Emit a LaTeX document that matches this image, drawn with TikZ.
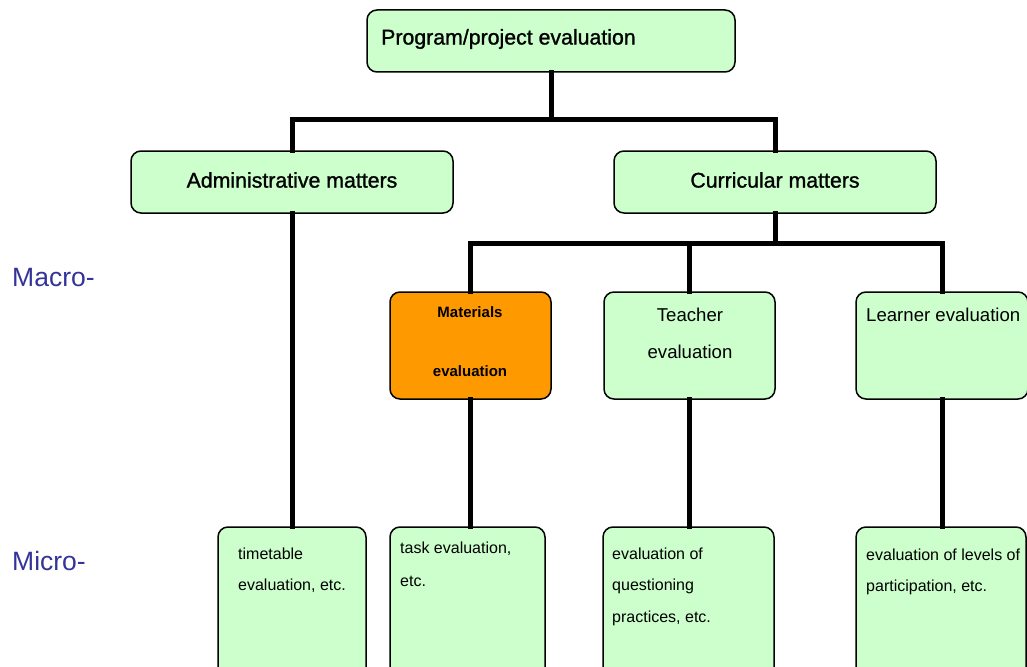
\documentclass[tikz,border=0pt]{standalone}
\usepackage{fontspec}
\setmainfont{Liberation Sans}
\newfontfamily\heavyfont[FakeBold=1.2]{Liberation Sans}
\definecolor{boxgreen}{HTML}{CCFFCC}
\definecolor{boxorange}{HTML}{FF9900}
\definecolor{levelblue}{HTML}{333399}
\tikzset{
  box/.style={draw=black, line width=1.5pt, rounded corners=10pt, fill=boxgreen, inner sep=0pt},
  hot/.style={box, fill=boxorange},
  link/.style={line width=5pt, line cap=rect},
  txt/.style={inner sep=0pt, font=\fontsize{16}{18}\selectfont},
  boldtxt/.style={inner sep=0pt, font=\fontsize{15}{18}\bfseries},
  bigtxt/.style={inner sep=0pt, font=\fontsize{21.3}{25}\heavyfont},
  midtxt/.style={inner sep=0pt, font=\fontsize{18.6}{22}\selectfont},
  level/.style={inner sep=0pt, anchor=west, text=levelblue, font=\fontsize{26.5}{30}\selectfont},
}
\begin{document}
\begin{tikzpicture}[x=1pt, y=-1pt]
\useasboundingbox (0,0) rectangle (1027,666);
\clip (0,0) rectangle (1027,666);
% boxes
\node[box, minimum width=368pt, minimum height=62pt] (top) at (551,41) {};
\node[box, minimum width=322pt, minimum height=62pt] (adm) at (292,182) {};
\node[box, minimum width=322pt, minimum height=62pt] (cur) at (775,182) {};
\node[hot, minimum width=161pt, minimum height=107pt] (mat) at (470.5,345.5) {};
\node[box, minimum width=171pt, minimum height=107pt] (tea) at (689.5,345.5) {};
\node[box, minimum width=172pt, minimum height=107pt] (lea) at (942,345.5) {};
\node[box, minimum width=148pt, minimum height=160pt] (tim) at (292,607) {};
\node[box, minimum width=155pt, minimum height=160pt] (tas) at (467.5,607) {};
\node[box, minimum width=171pt, minimum height=160pt] (que) at (688.5,607) {};
\node[box, minimum width=170pt, minimum height=160pt] (lev) at (941,607) {};
% connectors
\coordinate (j1) at (551,120);
\coordinate (j2) at (775,243);
\draw[link] (top.south) -- (j1);
\draw[link] (adm.north) |- (j1) -| (cur.north);
\draw[link] (cur.south) -- (j2);
\draw[link] (mat.north) |- (j2) -| (lea.north);
\draw[link] (tea.north) -- (tea.north |- j2);
\draw[link] (adm.south) -- (tim.north);
\draw[link] (mat.south) -- (mat.south |- tas.north);
\draw[link] (tea.south) -- (tea.south |- que.north);
\draw[link] (lea.south) -- (lea.south |- lev.north);
% texts
\node[bigtxt, anchor=west] (ttop) at (381,39) {Program/project evaluation};
\node[bigtxt] (tadm) at (292,180) {Administrative matters};
\node[bigtxt] (tcur) at (775,180) {Curricular matters};
\node[boldtxt] (tmat1) at (470,312) {Materials};
\node[boldtxt] (tmat2) at (470,371) {evaluation};
\node[midtxt] (ttea1) at (690,315) {Teacher};
\node[midtxt] (ttea2) at (690,352) {evaluation};
\node[midtxt, anchor=west] (tlea) at (866,315) {Learner evaluation};
\node[txt, anchor=west] (ttim1) at (238,554) {timetable};
\node[txt, anchor=west] (ttim2) at (238,586) {evaluation, etc.};
\node[txt, anchor=west] (ttas1) at (400,549) {task evaluation,};
\node[txt, anchor=west] (ttas2) at (400,581) {etc.};
\node[txt, anchor=west] (tque1) at (612,554) {evaluation of};
\node[txt, anchor=west] (tque2) at (612,586) {questioning};
\node[txt, anchor=west] (tque3) at (612,618) {practices, etc.};
\node[txt, anchor=west] (tlev1) at (866,555) {evaluation of levels of};
\node[txt, anchor=west] (tlev2) at (866,587) {participation, etc.};
\node[level] (macro) at (12,278) {Macro-};
\node[level] (micro) at (12,561) {Micro-};
\end{tikzpicture}
\end{document}
